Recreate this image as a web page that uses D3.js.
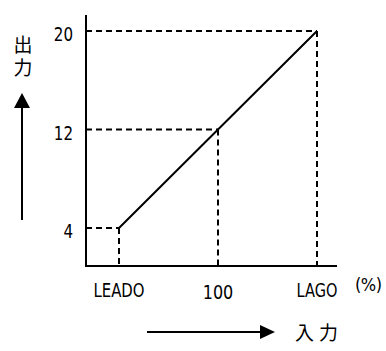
<!DOCTYPE html>
<html>
<head>
<meta charset="utf-8">
<script src="https://cdn.jsdelivr.net/npm/d3@7"></script>
<style>
  html, body { margin: 0; padding: 0; background: #fff; }
  svg { display: block; }
</style>
</head>
<body>
<div id="chart"></div>
<script>
const categories = ['LEADO', '100', 'LAGO'];
const outputValues = [4, 12, 20];
const yTickLabels = ['4', '12', '20'];
const xAxisTitle = '入力';
const yAxisTitle = '出力';
const unitLabel = '(%)';

const width = 386;
const height = 351;
const latin = '"DejaVu Sans Condensed", "Liberation Sans", sans-serif';
const cjk = '"Noto Sans CJK JP", sans-serif';

const svg = d3.select('#chart')
  .append('svg')
  .attr('width', width)
  .attr('height', height);

const x = d3.scalePoint().domain(categories).range([119, 317]);
const y = d3.scaleLinear().domain([4, 20]).range([228, 31]);

const axisX = 86;
const axisY = 266;

const points = categories.map((c, i) => ({ c, v: outputValues[i] }));

// dashed guides
points.forEach(p => {
  svg.append('line')
    .attr('x1', axisX).attr('x2', x(p.c))
    .attr('y1', y(p.v)).attr('y2', y(p.v))
    .attr('stroke', '#000').attr('stroke-width', 2)
    .attr('stroke-dasharray', '6,4');
  svg.append('line')
    .attr('x1', x(p.c)).attr('x2', x(p.c))
    .attr('y1', y(p.v)).attr('y2', axisY)
    .attr('stroke', '#000').attr('stroke-width', 2)
    .attr('stroke-dasharray', '6,4');
});

// main line
svg.append('path')
  .datum(points)
  .attr('fill', 'none')
  .attr('stroke', '#000')
  .attr('stroke-width', 2)
  .attr('d', d3.line().x(d => x(d.c)).y(d => y(d.v)));

// axes
svg.append('path')
  .attr('d', `M${axisX},15V${axisY}H337`)
  .attr('fill', 'none')
  .attr('stroke', '#000')
  .attr('stroke-width', 2);

// y tick labels (narrow gothic look)
svg.selectAll('.ylab')
  .data(outputValues)
  .join('text')
  .attr('x', 73)
  .attr('y', d => y(d) + 10)
  .attr('text-anchor', 'end')
  .attr('font-family', latin)
  .attr('font-size', 20)
  .attr('textLength', (d, i) => yTickLabels[i].length * 9.6)
  .attr('lengthAdjust', 'spacingAndGlyphs')
  .text((d, i) => yTickLabels[i]);

// x tick labels
svg.selectAll('.xlab')
  .data(categories)
  .join('text')
  .attr('x', d => x(d) - d.length * 5.1)
  .attr('y', d => d === '100' ? 299 : 297)
  .attr('font-family', latin)
  .attr('font-size', 20)
  .attr('textLength', d => d.length * 10.2)
  .attr('lengthAdjust', 'spacingAndGlyphs')
  .text(d => d);

svg.append('text')
  .attr('x', 355).attr('y', 291)
  .attr('font-family', latin)
  .attr('font-size', 18)
  .attr('textLength', 27)
  .attr('lengthAdjust', 'spacing')
  .text(unitLabel);

// y direction arrow
svg.append('line')
  .attr('x1', 22).attr('x2', 22)
  .attr('y1', 106).attr('y2', 220)
  .attr('stroke', '#000').attr('stroke-width', 2);
svg.append('path')
  .attr('d', 'M22,93L30,108H14Z')
  .attr('fill', '#000');

svg.append('text')
  .attr('x', 23)
  .attr('y', 35)
  .attr('writing-mode', 'vertical-rl')
  .attr('font-family', cjk)
  .attr('font-size', 19)
  .attr('letter-spacing', 4)
  .text(yAxisTitle);

// x direction arrow
svg.append('line')
  .attr('x1', 147).attr('x2', 262)
  .attr('y1', 332).attr('y2', 332)
  .attr('stroke', '#000').attr('stroke-width', 2);
svg.append('path')
  .attr('d', 'M275,332L260,325V339Z')
  .attr('fill', '#000');

svg.append('text')
  .attr('x', 295).attr('y', 340)
  .attr('font-family', cjk)
  .attr('font-size', 19)
  .attr('letter-spacing', 5)
  .text(xAxisTitle);
</script>
</body>
</html>
